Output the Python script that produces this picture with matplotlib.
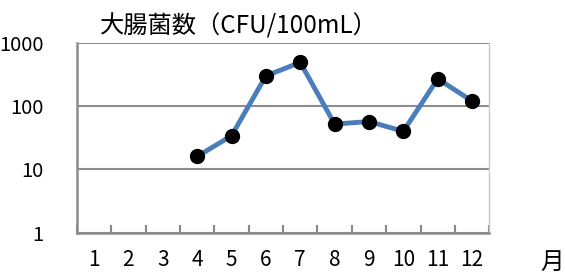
import numpy as np
import matplotlib
matplotlib.use("Agg")
import matplotlib.pyplot as plt
from matplotlib.ticker import FixedLocator, NullFormatter

plt.rcParams['font.family'] = ['Noto Sans CJK JP', 'DejaVu Sans']

months = [1, 2, 3, 4, 5, 6, 7, 8, 9, 10, 11, 12]
ecoli = [np.nan, np.nan, np.nan, 16, 34, 300, 490, 52, 57, 40, 270, 120]

fig = plt.figure(figsize=(5.65, 2.78), dpi=100)
ax = fig.add_axes([0.136, 0.163, 0.730, 0.683])

ax.plot(months, ecoli, color='#4a7ebb', lw=3.5, marker='o',
        markersize=10, markerfacecolor='black', markeredgecolor='black', zorder=3)

ax.set_yscale('log')
ax.set_ylim(1, 1000)
ax.set_xlim(0.5, 12.5)
ax.set_yticks([1, 10, 100, 1000])
ax.set_yticklabels(['1', '10', '100', '1000'])
ax.yaxis.set_minor_formatter(NullFormatter())
ax.yaxis.set_minor_locator(FixedLocator([]))
ax.tick_params(axis='y', length=0, pad=24, labelsize=14.5)

ax.set_xticks(months)
ax.set_xticklabels([str(m) for m in months])
ax.xaxis.set_minor_locator(FixedLocator(np.arange(0.5, 13, 1)))
ax.tick_params(axis='x', which='major', length=0, pad=12, labelsize=15)
ax.tick_params(axis='x', which='minor', direction='in', length=6, width=1.5, color='#888888')

ax.grid(axis='y', which='major', color='#8c8c8c', lw=1.5)
for s in ['left', 'bottom']:
    ax.spines[s].set_color('#8c8c8c')
    ax.spines[s].set_linewidth(1.8)
ax.spines['top'].set_visible(False)
ax.spines['right'].set_color('#c8c8c8')
ax.spines['right'].set_linewidth(1)

fig.text(0.177, 0.905, '大腸菌数（CFU/100mL）', fontsize=17.5, ha='left', va='center')
fig.text(0.978, 0.055, '月', fontsize=17, ha='center', va='center')

fig.savefig('out.png', dpi=100)
